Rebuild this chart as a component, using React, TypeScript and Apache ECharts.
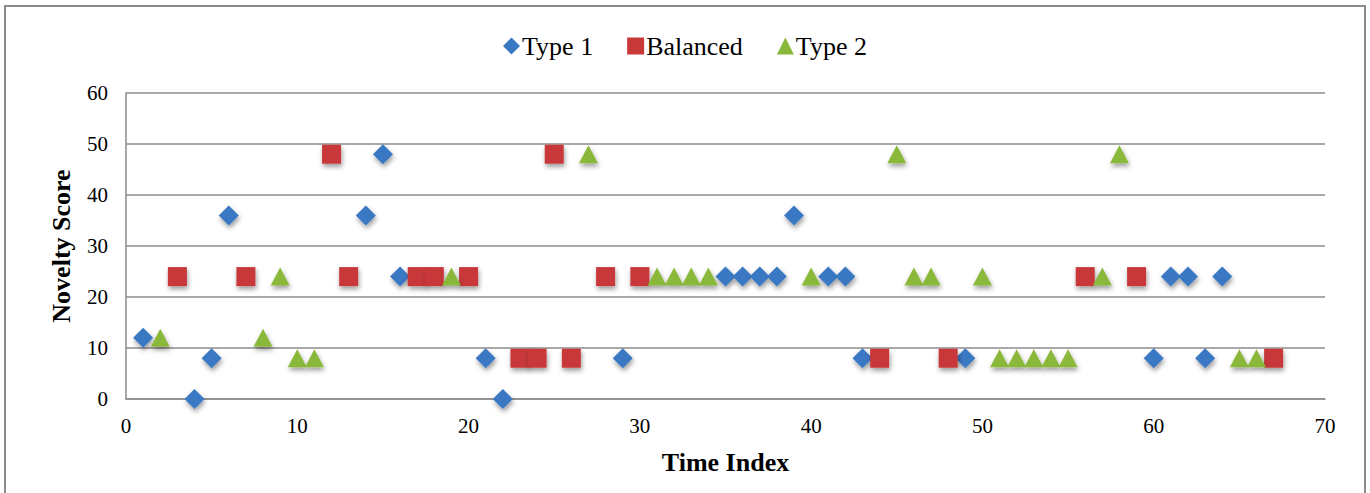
import React, { useEffect, useRef } from "react";
import * as echarts from "echarts";

const type1X = [1, 4, 5, 6, 14, 15, 16, 21, 22, 29, 35, 36, 37, 38, 39, 41, 42, 43, 49, 60, 61, 62, 63, 64];
const type1Y = [12, 0, 8, 36, 36, 48, 24, 8, 0, 8, 24, 24, 24, 24, 36, 24, 24, 8, 8, 8, 24, 24, 8, 24];

const balancedX = [3, 7, 12, 13, 17, 18, 20, 23, 24, 25, 26, 28, 30, 44, 48, 56, 59, 67];
const balancedY = [24, 24, 48, 24, 24, 24, 24, 8, 8, 48, 8, 24, 24, 8, 8, 24, 24, 8];

const type2X = [2, 8, 9, 10, 11, 19, 27, 31, 32, 33, 34, 40, 45, 46, 47, 50, 51, 52, 53, 54, 55, 57, 58, 65, 66];
const type2Y = [12, 12, 24, 8, 8, 24, 48, 24, 24, 24, 24, 24, 48, 24, 24, 24, 8, 8, 8, 8, 8, 24, 48, 8, 8];

const seriesNames = ["Type 1", "Balanced", "Type 2"];
const xTitle = "Time Index";
const yTitle = "Novelty Score";

const zip = (xs: number[], ys: number[]) => xs.map((x, i) => [x, ys[i]]);

export default function App() {
  const ref = useRef<HTMLDivElement>(null);
  useEffect(() => {
    if (!ref.current) return;
    const chart = echarts.init(ref.current, null, { renderer: "svg" });
    const font = "'Liberation Serif', 'Times New Roman', serif";
    const shadow = {
      opacity: 1,
      shadowBlur: 5,
      shadowColor: "rgba(0,0,0,0.4)",
      shadowOffsetX: 1,
      shadowOffsetY: 3,
    };
    chart.setOption({
      animation: false,
      backgroundColor: "#ffffff",
      textStyle: { fontFamily: font },
      graphic: [
        {
          type: "rect",
          shape: { x: 5, y: 6, width: 1360, height: 500 },
          style: { fill: "none", stroke: "#8c8c8c", lineWidth: 2 },
          silent: true,
        },
      ],
      legend: {
        top: 28,
        left: "center",
        itemWidth: 17,
        itemHeight: 17,
        itemGap: 34,
        textStyle: { fontFamily: font, fontSize: 26, color: "#000", padding: [0, 0, 0, -3] },
        data: seriesNames,
      },
      grid: { left: 126, right: 45, top: 93, bottom: 94 },
      xAxis: {
        type: "value",
        min: 0,
        max: 70,
        interval: 10,
        name: xTitle,
        nameLocation: "middle",
        nameGap: 50,
        nameTextStyle: { fontFamily: font, fontSize: 26, fontWeight: "bold", color: "#000" },
        axisLine: { show: true, lineStyle: { color: "#8c8c8c", width: 1.5 } },
        axisTick: { show: false },
        splitLine: { show: false },
        axisLabel: { fontFamily: font, fontSize: 21, color: "#000", margin: 16 },
      },
      yAxis: {
        type: "value",
        min: 0,
        max: 60,
        interval: 10,
        name: yTitle,
        nameLocation: "middle",
        nameGap: 52,
        nameTextStyle: { fontFamily: font, fontSize: 26, fontWeight: "bold", color: "#000" },
        axisLine: { show: true, lineStyle: { color: "#8c8c8c", width: 1.5 } },
        axisTick: { show: false },
        splitLine: { show: true, lineStyle: { color: "#8c8c8c", width: 1.5 } },
        axisLabel: { fontFamily: font, fontSize: 21, color: "#000", margin: 18 },
      },
      series: [
        {
          name: seriesNames[0],
          type: "scatter",
          symbol: "diamond",
          symbolSize: [20, 20],
          itemStyle: { color: "#3a78c4", ...shadow },
          data: zip(type1X, type1Y),
        },
        {
          name: seriesNames[1],
          type: "scatter",
          symbol: "rect",
          symbolSize: [19, 19],
          itemStyle: { color: "#c8393a", ...shadow },
          data: zip(balancedX, balancedY),
        },
        {
          name: seriesNames[2],
          type: "scatter",
          symbol: "triangle",
          symbolSize: [19, 18],
          itemStyle: { color: "#8ab83a", ...shadow },
          data: zip(type2X, type2Y),
        },
      ],
    });
    return () => chart.dispose();
  }, []);
  return (
    <div
      ref={ref}
      style={{ position: "fixed", left: 0, top: 0, width: 1370, height: 493 }}
    />
  );
}
